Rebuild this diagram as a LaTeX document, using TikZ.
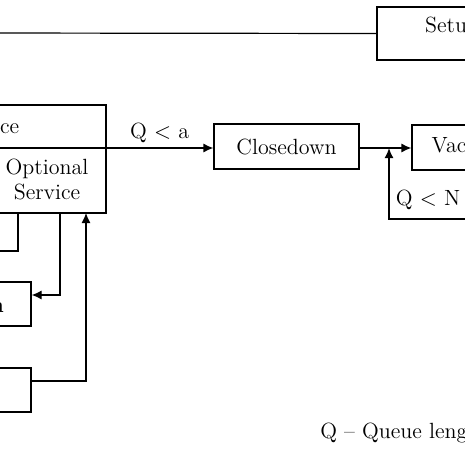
\documentclass[tikz,border=0pt]{standalone}
\usepackage{tikz}
\usetikzlibrary{arrows.meta}

\begin{document}
\begin{tikzpicture}[x = 0.5pt, y = -0.5pt, semithick, >={Latex[length = 5pt, width = 4.5pt]},
    every node/.style = {font = \fontsize{11}{13.5}\selectfont},
    box/.style = {shape = rectangle, draw, inner sep = 0pt}]
        \useasboundingbox (0,0) rectangle (465,465);
        \clip (0,0) rectangle (465,465);
        % boxes
        \node[box, minimum width = 81.5pt, minimum height = 26.5pt] (setup) at (458.5,33.5) {};
        \node (setuptxt) at (452,27) {Setup};
        \node[box, minimum width = 83pt, minimum height = 54pt] (service) at (23,159) {};
        \node (servtxt) at (-14,126) {Service};
        \node[align = center] (opttxt) at (47,179) {Optional\\[-1pt]Service};
        \node[box, minimum width = 72.5pt, minimum height = 22.5pt] (close) at (286.5,146.5) {Closedown};
        \node[box, minimum width = 64pt, minimum height = 22.5pt] (vac) at (476,147.5) {};
        \node (vactxt) at (473,145) {Vacation};
        \node[box, minimum width = 65.5pt, minimum height = 22pt] (repair) at (-34.5,304) {};
        \node[anchor = east, font = \fontsize{11}{13.5}\selectfont\bfseries] (reptxt) at (11,305) {Breakdown};
        \node[box, minimum width = 65.5pt, minimum height = 22pt] (idle) at (-34.5,390) {};
        \node[anchor = west] (legend) at (313,433) {Q -- Queue length};
        % connectors
        \coordinate (div-w) at (-60,148);
        \coordinate (div-e) at (106,148);
        \coordinate (merge) at (389,148);
        \coordinate (qn-in) at (480,219);
        \coordinate (l1) at (-20,251);
        \draw (setup.west) -- (-20,33);
        \draw (div-w) -- (div-e);
        \draw[->] (div-e) -- node[above, yshift = -1pt]{Q $<$ a} (close.west |- div-e);
        \draw[->] (close.east |- div-e) -- (vac.west |- div-e);
        \draw[thick, ->] (qn-in) -| (merge);
        \node (qntxt) at (428,200) {Q $<$ N};
        \draw (18,213) |- (l1);
        \draw[->] (60,213) |- (repair.east |- 0,295);
        \draw[->] (idle.east |- 0,381) -| (86,213);
\end{tikzpicture}
\end{document}
